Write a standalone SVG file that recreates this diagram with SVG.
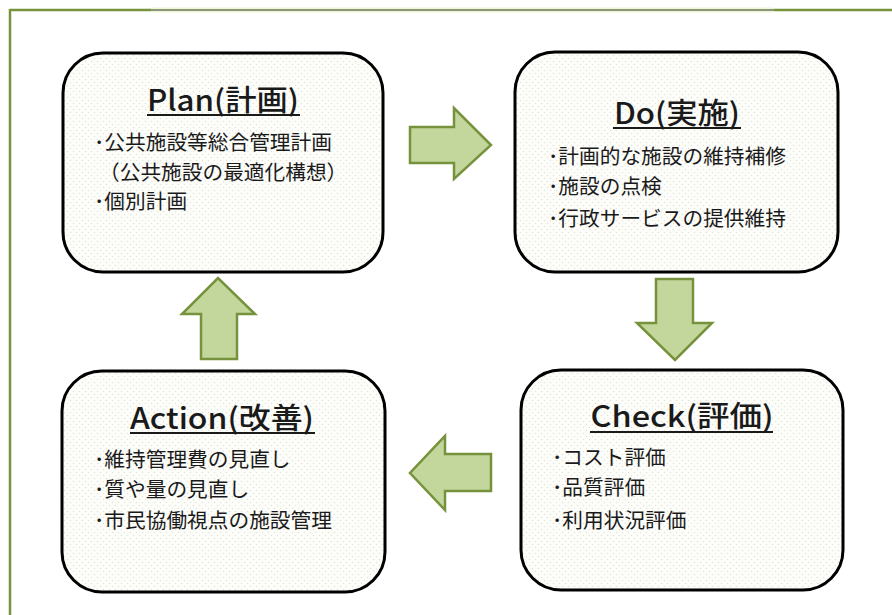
<svg xmlns="http://www.w3.org/2000/svg" width="892" height="615" viewBox="0 0 892 615">
<defs>
<pattern id="dots" width="6" height="6" patternUnits="userSpaceOnUse">
<rect width="6" height="6" fill="#fdfdfa"/>
<circle cx="1.5" cy="1.5" r="0.8" fill="#e3e5dc"/>
<circle cx="4.5" cy="4.5" r="0.8" fill="#e3e5dc"/>
</pattern>
<style>
.box{fill:url(#dots);stroke:#000;stroke-width:3}
.arrow{fill:#c3d69b;stroke:#76923c;stroke-width:2.5;stroke-linejoin:miter}
.title{font-family:"Noto Sans CJK JP","Noto Sans",sans-serif;font-size:29px;font-weight:500;fill:#1a1a1a;text-anchor:middle}
.body{font-family:"Noto Sans CJK JP","Noto Sans",sans-serif;font-size:20.7px;fill:#1a1a1a}
.ul{stroke:#1a1a1a;stroke-width:2}
</style>
</defs>
<rect width="892" height="615" fill="#ffffff"/>
<g id="frame">
<line x1="10" y1="10" x2="892" y2="10" stroke="#77933c" stroke-width="2.5"/>
<line x1="10" y1="9" x2="10" y2="615" stroke="#77933c" stroke-width="2.5"/>
<line x1="151" y1="10" x2="774" y2="10" stroke="#eef4d6" stroke-width="5"/>
<line x1="151" y1="10" x2="774" y2="10" stroke="#8c977a" stroke-width="2"/>
</g>
<g id="connectors">
<polygon class="arrow" points="410,127 454,127 454,108 491,145 454,179 454,163 410,163"/>
<polygon class="arrow" points="656,279 693,279 693,323 712,323 675,360 637,323 656,323"/>
<polygon class="arrow" points="491,454 445,454 445,436 410,473 445,510 445,491 491,491"/>
<polygon class="arrow" points="201,359 237,359 237,314 255,314 218,278 182,314 201,314"/>
</g>
<g id="plan">
<rect class="box" x="63" y="53" width="320" height="219" rx="40"/>
<text class="title" x="223" y="111" textLength="152" lengthAdjust="spacingAndGlyphs">Plan(計画)</text>
<line class="ul" x1="147" y1="115" x2="300" y2="115"/>
<text class="body" x="94" y="150">･公共施設等総合管理計画</text>
<text class="body" x="99" y="180">（公共施設の最適化構想）</text>
<text class="body" x="94" y="209">･個別計画</text>
</g>
<g id="do">
<rect class="box" x="515" y="52" width="323" height="220" rx="40"/>
<text class="title" x="677" y="124" textLength="126" lengthAdjust="spacingAndGlyphs">Do(実施)</text>
<line class="ul" x1="613" y1="128" x2="741" y2="128"/>
<text class="body" x="548" y="164">･計画的な施設の維持補修</text>
<text class="body" x="548" y="194">･施設の点検</text>
<text class="body" x="548" y="226">･行政サービスの提供維持</text>
</g>
<g id="action">
<rect class="box" x="62" y="371" width="323" height="221" rx="40"/>
<text class="title" x="222" y="429" textLength="184" lengthAdjust="spacingAndGlyphs">Action(改善)</text>
<line class="ul" x1="130" y1="433" x2="315" y2="433"/>
<text class="body" x="94" y="467">･維持管理費の見直し</text>
<text class="body" x="94" y="497">･質や量の見直し</text>
<text class="body" x="94" y="528">･市民協働視点の施設管理</text>
</g>
<g id="check">
<rect class="box" x="521" y="370" width="322" height="220" rx="40"/>
<text class="title" x="682" y="427" textLength="183" lengthAdjust="spacingAndGlyphs">Check(評価)</text>
<line class="ul" x1="590" y1="432" x2="773" y2="432"/>
<text class="body" x="552" y="465">･コスト評価</text>
<text class="body" x="552" y="495">･品質評価</text>
<text class="body" x="552" y="528">･利用状況評価</text>
</g>
</svg>
